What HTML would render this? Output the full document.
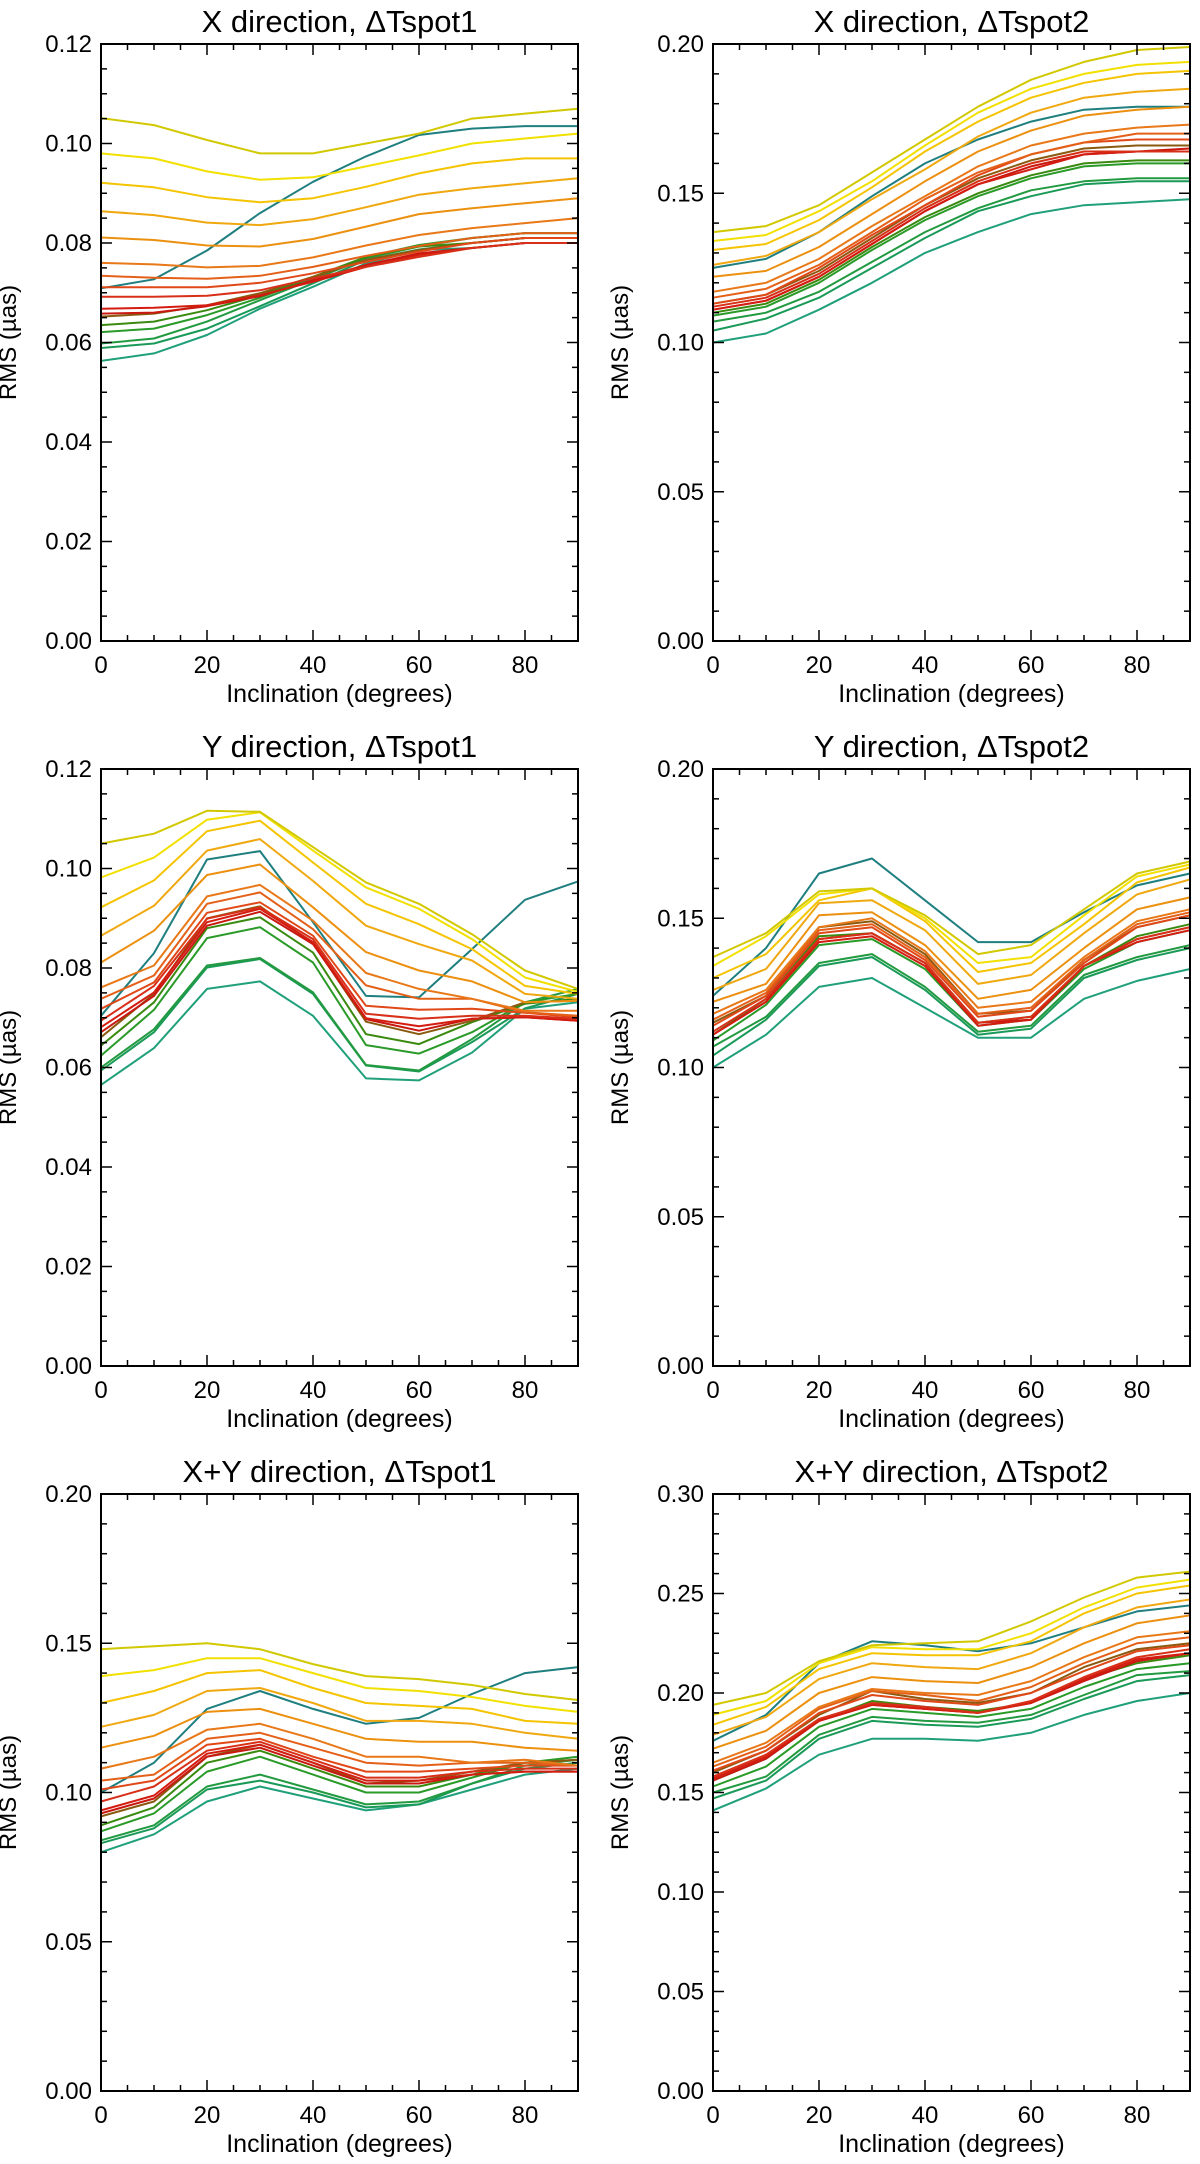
<!DOCTYPE html>
<html><head><meta charset="utf-8"><style>
html,body{margin:0;padding:0;background:#fff;}
svg{display:block;}
text{font-family:"Liberation Sans",Arial,sans-serif;fill:#000;}
</style></head>
<body>
<svg id="fig" width="1200" height="2164" viewBox="0 0 1200 2164" xmlns="http://www.w3.org/2000/svg"></svg>
<script>
const inclinations = [0,10,20,30,40,50,60,70,80,90];
const xTickLabels = ["0","20","40","60","80"];
const titles = ["X direction, \u0394Tspot1","X direction, \u0394Tspot2","Y direction, \u0394Tspot1","Y direction, \u0394Tspot2","X+Y direction, \u0394Tspot1","X+Y direction, \u0394Tspot2"];
const yMaxes = [0.12,0.20,0.12,0.20,0.20,0.30];
const yMajorSteps = [0.02,0.05,0.02,0.05,0.05,0.05];
const yMinorSteps = [0.005,0.01,0.005,0.01,0.01,0.01];
const lineColors = ["#d2c800","#f2e000","#f5c400","#f0a810","#ec9010","#e87818","#e46018","#e04818","#d83018","#d41c10","#c81810","#8a5a10","#3a8a10","#2a9a28","#229a40","#1a9a58","#20a07a","#1f7f7f"];
// series order: top yellow ... teal-green, last = teal anomaly
const xSpot1 = [
[.1051,.1037,.1007,.098,.098,.100,.102,.105,.106,.107],
[.098,.097,.0944,.0927,.0932,.0954,.0976,.100,.101,.102],
[.0921,.0912,.0892,.0882,.089,.0913,.094,.096,.097,.097],
[.0864,.0856,.0841,.0836,.0848,.0872,.0897,.091,.092,.093],
[.0811,.0806,.0795,.0793,.0808,.0833,.0858,.087,.088,.089],
[.0760,.0757,.0751,.0754,.0771,.0795,.0816,.083,.084,.085],
[.0734,.0730,.0728,.0734,.0752,.0774,.0794,.081,.082,.082],
[.0711,.0711,.0711,.0720,.0739,.0762,.0783,.080,.081,.081],
[.0692,.0692,.0694,.0705,.0729,.0752,.0772,.079,.080,.080],
[.0668,.0670,.0675,.0695,.0722,.0752,.0776,.079,.080,.080],
[.0658,.0660,.0673,.0693,.0725,.0756,.0779,.079,.080,.080],
[.0652,.0658,.0675,.0699,.0732,.0766,.0786,.080,.081,.081],
[.0635,.0642,.0665,.0695,.0732,.0772,.0793,.080,.081,.081],
[.0621,.0628,.0655,.0690,.0731,.0772,.0796,.081,.082,.082],
[.0598,.0608,.0642,.0685,.0727,.0769,.0793,.081,.082,.082],
[.0589,.0598,.0628,.0673,.0719,.0766,.0787,.080,.081,.081],
[.0563,.0578,.0615,.0668,.0712,.0759,.0786,.079,.080,.080],
[.0709,.0727,.0785,.0860,.0923,.0974,.1017,.103,.1035,.1035]];
const xSpot2 = [
[.137,.139,.146,.157,.168,.179,.188,.194,.198,.199],
[.134,.136,.144,.154,.166,.177,.185,.190,.193,.194],
[.131,.133,.141,.152,.164,.174,.182,.187,.190,.191],
[.126,.129,.137,.148,.158,.169,.177,.182,.184,.185],
[.122,.124,.132,.143,.154,.164,.171,.176,.178,.179],
[.117,.120,.128,.139,.149,.159,.166,.170,.172,.173],
[.115,.118,.126,.137,.148,.157,.163,.167,.170,.170],
[.113,.116,.125,.136,.146,.156,.163,.167,.168,.168],
[.112,.115,.123,.134,.145,.154,.160,.164,.164,.164],
[.111,.114,.122,.133,.144,.153,.158,.163,.164,.164],
[.111,.114,.122,.133,.144,.153,.159,.163,.164,.165],
[.113,.116,.124,.135,.146,.155,.161,.165,.166,.166],
[.110,.113,.121,.132,.142,.150,.156,.160,.161,.161],
[.109,.112,.120,.131,.141,.149,.155,.159,.160,.160],
[.107,.110,.117,.127,.137,.145,.151,.154,.155,.155],
[.104,.108,.115,.125,.135,.144,.149,.153,.154,.154],
[.100,.103,.111,.120,.130,.137,.143,.146,.147,.148],
[.125,.128,.137,.149,.160,.168,.174,.178,.179,.179]];
const ySpot1 = [
[.105,.107,.1116,.1114,.1043,.0972,.0929,.0868,.0795,.0758],
[.0982,.1022,.1098,.1113,.1036,.0962,.0919,.0858,.0781,.0752],
[.0922,.0976,.1075,.1096,.1012,.0929,.0888,.0838,.0764,.0748],
[.0865,.0925,.1036,.1059,.0975,.0885,.0848,.0815,.0748,.0738],
[.0811,.0875,.0987,.1008,.0922,.0832,.0795,.0773,.0731,.0734],
[.0761,.0805,.0944,.0967,.0895,.0790,.0758,.0738,.0714,.0714],
[.0738,.0785,.0929,.0952,.0878,.0765,.0738,.0738,.0711,.0704],
[.0718,.0771,.0911,.0932,.0865,.0724,.0716,.0718,.0710,.0701],
[.0694,.0764,.0899,.0922,.0858,.0708,.0698,.0704,.0704,.0698],
[.0681,.0751,.0892,.0919,.0852,.0699,.0683,.0698,.0701,.0694],
[.0671,.0744,.0885,.0913,.0848,.0697,.0674,.0698,.0701,.0694],
[.0661,.0748,.0900,.0924,.0850,.0692,.0667,.0694,.0731,.0734],
[.0644,.0731,.0880,.0902,.0831,.0667,.0647,.0691,.0728,.0738],
[.0624,.0716,.0860,.0882,.0811,.0645,.0628,.0671,.0731,.0748],
[.0600,.0677,.0805,.0820,.0751,.0605,.0594,.0657,.0731,.0758],
[.0594,.0671,.0801,.0818,.0748,.0604,.0592,.0651,.0719,.0748],
[.0565,.0639,.0758,.0773,.0704,.0578,.0574,.0630,.0718,.0731],
[.0704,.0830,.1018,.1035,.0892,.0744,.0741,.0838,.0937,.0974]];
const ySpot2 = [
[.137,.145,.159,.160,.151,.138,.141,.153,.165,.169],
[.134,.144,.158,.160,.150,.135,.137,.151,.164,.168],
[.130,.138,.156,.160,.149,.132,.135,.148,.162,.167],
[.126,.133,.155,.156,.146,.128,.131,.145,.158,.163],
[.122,.128,.151,.152,.141,.123,.126,.140,.153,.157],
[.118,.126,.147,.150,.139,.120,.122,.137,.149,.153],
[.116,.125,.146,.148,.137,.118,.120,.136,.148,.152],
[.114,.124,.145,.147,.136,.117,.119,.135,.147,.151],
[.112,.123,.143,.145,.135,.115,.117,.134,.143,.147],
[.111,.122,.142,.144,.134,.114,.116,.134,.142,.146],
[.111,.122,.143,.145,.135,.115,.116,.134,.143,.147],
[.115,.124,.147,.149,.138,.118,.119,.136,.147,.151],
[.111,.123,.144,.145,.135,.115,.117,.134,.144,.148],
[.109,.121,.141,.143,.133,.114,.116,.133,.142,.146],
[.107,.117,.135,.138,.127,.112,.114,.131,.137,.141],
[.104,.116,.134,.137,.126,.111,.113,.130,.136,.140],
[.100,.111,.127,.130,.120,.110,.110,.123,.129,.133],
[.124,.140,.165,.170,.156,.142,.142,.152,.161,.165]];
const xySpot1 = [
[.148,.149,.150,.148,.143,.139,.138,.136,.133,.131],
[.139,.141,.145,.145,.140,.135,.134,.132,.129,.127],
[.130,.134,.140,.141,.135,.130,.129,.128,.124,.123],
[.122,.126,.134,.135,.130,.124,.124,.123,.120,.118],
[.115,.119,.127,.128,.123,.118,.117,.117,.115,.114],
[.108,.112,.121,.123,.118,.112,.112,.110,.111,.109],
[.104,.106,.118,.120,.115,.110,.109,.110,.110,.109],
[.101,.104,.116,.118,.112,.107,.107,.108,.109,.109],
[.097,.102,.114,.117,.111,.105,.105,.107,.108,.108],
[.094,.099,.113,.116,.110,.104,.104,.106,.107,.107],
[.093,.098,.112,.115,.109,.103,.103,.106,.107,.107],
[.092,.097,.112,.116,.110,.103,.104,.107,.110,.111],
[.089,.095,.110,.114,.108,.102,.102,.106,.110,.111],
[.087,.093,.107,.112,.106,.100,.100,.105,.110,.112],
[.084,.089,.102,.106,.101,.096,.097,.103,.109,.111],
[.083,.088,.101,.104,.100,.095,.096,.103,.108,.110],
[.080,.086,.097,.102,.098,.094,.096,.101,.106,.108],
[.100,.110,.128,.134,.128,.123,.125,.133,.140,.142]];
const xySpot2 = [
[.194,.200,.216,.224,.225,.226,.236,.248,.258,.261],
[.189,.196,.215,.223,.222,.222,.230,.243,.253,.257],
[.184,.193,.212,.220,.219,.219,.226,.240,.250,.254],
[.179,.188,.207,.215,.213,.212,.220,.233,.243,.247],
[.172,.181,.200,.208,.206,.205,.213,.225,.235,.239],
[.165,.175,.193,.202,.200,.199,.206,.218,.228,.231],
[.163,.173,.192,.201,.199,.196,.203,.215,.225,.228],
[.161,.171,.190,.199,.196,.194,.200,.211,.221,.224],
[.158,.169,.187,.195,.193,.190,.196,.208,.218,.222],
[.157,.168,.186,.194,.192,.190,.195,.207,.217,.220],
[.156,.167,.186,.194,.192,.190,.195,.206,.216,.220],
[.160,.171,.189,.201,.197,.195,.200,.213,.222,.225],
[.156,.167,.186,.196,.193,.191,.195,.207,.215,.219],
[.153,.163,.183,.192,.190,.188,.192,.203,.212,.215],
[.150,.158,.179,.188,.186,.185,.189,.199,.209,.211],
[.147,.156,.177,.186,.184,.183,.187,.197,.206,.209],
[.141,.152,.169,.177,.177,.176,.180,.189,.196,.200],
[.176,.189,.215,.226,.224,.221,.225,.233,.241,.244]];
const allSeries = [xSpot1,xSpot2,ySpot1,ySpot2,xySpot1,xySpot2];
const panelNames = ["x-spot1","x-spot2","y-spot1","y-spot2","xy-spot1","xy-spot2"];

const NS="http://www.w3.org/2000/svg";
const svg=document.getElementById('fig');
function mk(tag,attrs,parent){const e=document.createElementNS(NS,tag);for(const k in attrs)e.setAttribute(k,attrs[k]);(parent||svg).appendChild(e);return e;}

const PW=477, PH=597;
for(let p=0;p<6;p++){
  const col=p%2,row=Math.floor(p/2);
  const x0=col?713:101, y0=44+row*725;
  const yMax=yMaxes[p];
  const sx=v=>x0+v/90*PW;
  const sy=v=>y0+PH-v/yMax*PH;
  const g=mk('g',{});
  
  
  const t=mk('text',{x:x0+PW/2,y:y0-12,'text-anchor':'middle','font-size':31},g);
  t.textContent=titles[p];
  
  
  // series
  const series=allSeries[p];
  const sg=mk('g',{fill:'none','stroke-linejoin':'round'},g);
  
  
  for(let i=series.length-1;i>=0;i--){
    const d=series[i].map((v,j)=>(j?'L':'M')+sx(inclinations[j]).toFixed(1)+','+sy(v).toFixed(1)).join('');
    const pl=mk('path',{d:d,stroke:lineColors[i],'stroke-width':2},sg);
    
    
  }
  // frame
  const fr=mk('rect',{x:x0,y:y0,width:PW,height:PH,fill:'none',stroke:'#000','stroke-width':2},g);
  
  
  // x ticks
  for(let v=0;v<=90;v+=5){
    const L=(v%20===0)?11:6, X=sx(v);
    mk('line',{x1:X,y1:y0+PH,x2:X,y2:y0+PH-L,stroke:'#000','stroke-width':1.5},g);
    mk('line',{x1:X,y1:y0,x2:X,y2:y0+L,stroke:'#000','stroke-width':1.5},g);
  }
  xTickLabels.forEach(s=>{
    const tl=mk('text',{x:sx(+s),y:y0+PH+32,'text-anchor':'middle','font-size':24},g);
    tl.textContent=s;
    
    
  });
  const xl=mk('text',{x:x0+PW/2,y:y0+PH+61,'text-anchor':'middle','font-size':25},g);
  xl.textContent='Inclination (degrees)';
  
  
  // y ticks
  const nMin=Math.round(yMax/yMinorSteps[p]), ratio=Math.round(yMajorSteps[p]/yMinorSteps[p]);
  for(let k=0;k<=nMin;k++){
    const v=k*yMinorSteps[p], Y=sy(v), L=(k%ratio===0)?11:6;
    mk('line',{x1:x0,y1:Y,x2:x0+L,y2:Y,stroke:'#000','stroke-width':1.5},g);
    mk('line',{x1:x0+PW,y1:Y,x2:x0+PW-L,y2:Y,stroke:'#000','stroke-width':1.5},g);
    if(k%ratio===0){
      const yl=mk('text',{x:x0-9,y:Y+8,'text-anchor':'end','font-size':24},g);
      yl.textContent=v.toFixed(2);
      
      
    }
  }
  const yt=mk('text',{x:x0-85,y:y0+PH/2,'text-anchor':'middle','font-size':24,transform:'rotate(-90 '+(x0-85)+' '+(y0+PH/2)+')'},g);
  yt.textContent='RMS (\u00b5as)';
  
  
}
</script>
</body></html>
